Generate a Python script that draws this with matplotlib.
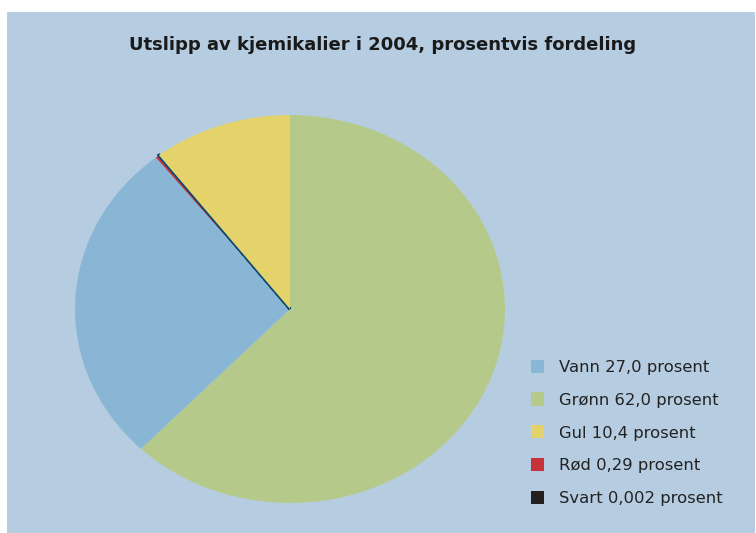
import matplotlib
matplotlib.use("Agg")
import matplotlib.pyplot as plt
from matplotlib.patches import Rectangle, Patch

title = "Utslipp av kjemikalier i 2004, prosentvis fordeling"
categories = ["Vann", "Grønn", "Gul", "Rød", "Svart"]
values = [27.0, 62.0, 10.4, 0.29, 0.002]
value_labels = ["27,0", "62,0", "10,4", "0,29", "0,002"]
colors = ["#8ab6d6", "#b5ca8a", "#e3d36a", "#c8323a", "#231f20"]
# order of wedges clockwise from 12 o'clock
pie_order = [1, 0, 3, 4, 2]

W, H = 756, 533
fig = plt.figure(figsize=(W / 100, H / 100), dpi=100)
fig.patch.set_facecolor("white")
bg = "#b6cde1"
fig.patches.append(Rectangle((7 / W, 0), (W - 8) / W, (H - 12) / H,
                             transform=fig.transFigure, facecolor=bg,
                             edgecolor="none", zorder=-10))

l, r, t, b = 75, 505, 115, 503
ax = fig.add_axes([l / W, (H - b) / H, (r - l) / W, (b - t) / H], zorder=2)
ax.set_facecolor("none")
wedges, _ = ax.pie([values[i] for i in pie_order],
                   colors=[colors[i] for i in pie_order],
                   startangle=90, counterclock=False,
                   wedgeprops=dict(linewidth=0))
# dark boundary of the smallest wedges
wedges[3].set_edgecolor("#0d4a70")
wedges[3].set_linewidth(2.2)
ax.set_aspect("auto")
ax.set_xlim(-1, 1)
ax.set_ylim(-1, 1)
ax.axis("off")

fig.text(383 / W, 1 - 45 / H, title, ha="center", va="center",
         fontsize=13, fontweight="bold", color="#1a1a1a", zorder=3)

handles = [Patch(facecolor=c, edgecolor="none") for c in colors]
labels = [f"{c} {v} prosent" for c, v in zip(categories, value_labels)]
leg = fig.legend(handles, labels, loc="upper left",
                 bbox_to_anchor=(524 / W, 1 - 353 / H),
                 frameon=False, fontsize=11.8, handlelength=0.85,
                 handleheight=0.85, handletextpad=0.9, labelspacing=1.08,
                 borderaxespad=0)
leg.set_zorder(3)
for txt in leg.get_texts():
    txt.set_color("#222222")

fig.savefig("out.png", dpi=100, facecolor=fig.get_facecolor())
